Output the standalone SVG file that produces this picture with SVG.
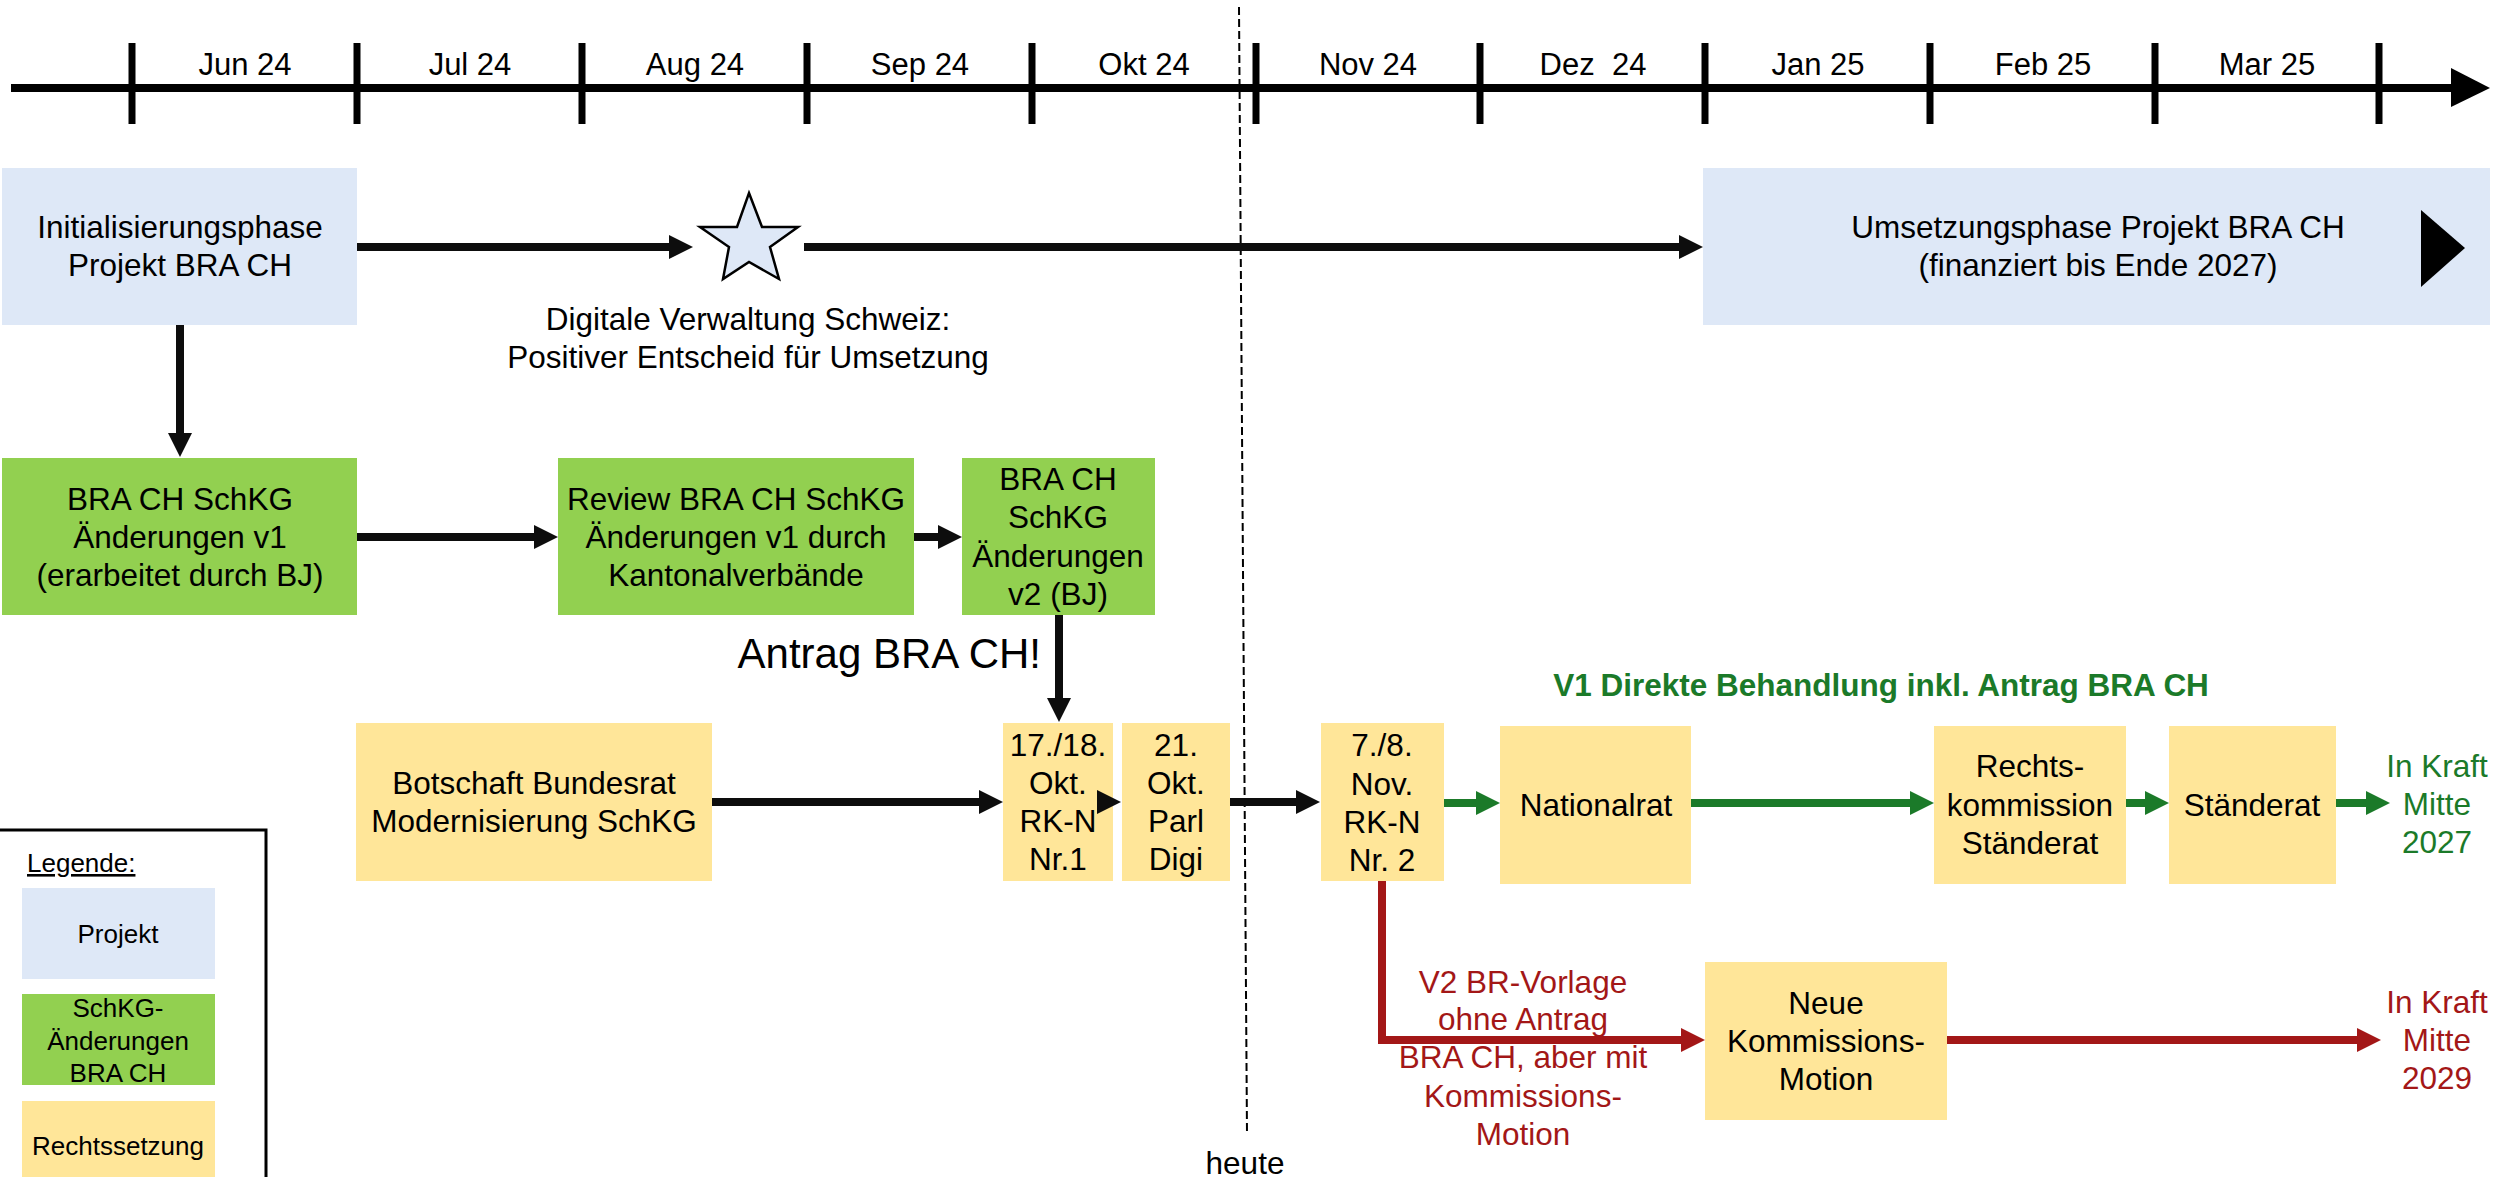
<svg xmlns="http://www.w3.org/2000/svg" width="2504" height="1177" viewBox="0 0 2504 1177">
<defs>
<style>
text { font-family: "Liberation Sans", Arial, sans-serif; font-size: 31.5px; fill: #000; text-anchor: middle; }
.blue { fill: #DEE8F7; }
.green { fill: #92D050; }
.yellow { fill: #FFE699; }
.conn { fill: none; stroke-width: 8; stroke-linejoin: miter; }
.k { stroke: #0D0D0D; }
.g { stroke: #1B7A29; }
.r { stroke: #A31717; }
.gt { fill: #1B7A29; }
.rt { fill: #A31717; }
.leg { font-size: 26px; }
.tick { stroke: #000; stroke-width: 7; }
.month { font-size: 31px; }
</style>
<marker id="ak" markerUnits="userSpaceOnUse" markerWidth="24" markerHeight="24" viewBox="0 0 24 24" refX="2" refY="12" orient="auto"><path d="M0,0 L24,12 L0,24 z" fill="#0D0D0D"/></marker>
<marker id="ag" markerUnits="userSpaceOnUse" markerWidth="24" markerHeight="24" viewBox="0 0 24 24" refX="2" refY="12" orient="auto"><path d="M0,0 L24,12 L0,24 z" fill="#1B7A29"/></marker>
<marker id="ar" markerUnits="userSpaceOnUse" markerWidth="24" markerHeight="24" viewBox="0 0 24 24" refX="2" refY="12" orient="auto"><path d="M0,0 L24,12 L0,24 z" fill="#A31717"/></marker>
</defs>
<rect width="2504" height="1177" fill="#fff"/>

<g id="timeline">
<line x1="11" y1="88" x2="2455" y2="88" stroke="#000" stroke-width="8"/>
<polygon points="2451,68 2490,88 2451,107" fill="#000"/>
<line class="tick" x1="132" y1="43" x2="132" y2="124"/>
<line class="tick" x1="357" y1="43" x2="357" y2="124"/>
<line class="tick" x1="582" y1="43" x2="582" y2="124"/>
<line class="tick" x1="807" y1="43" x2="807" y2="124"/>
<line class="tick" x1="1032" y1="43" x2="1032" y2="124"/>
<line class="tick" x1="1256" y1="43" x2="1256" y2="124"/>
<line class="tick" x1="1480" y1="43" x2="1480" y2="124"/>
<line class="tick" x1="1705" y1="43" x2="1705" y2="124"/>
<line class="tick" x1="1930" y1="43" x2="1930" y2="124"/>
<line class="tick" x1="2155" y1="43" x2="2155" y2="124"/>
<line class="tick" x1="2379" y1="43" x2="2379" y2="124"/>
<text class="month" x="245" y="75">Jun 24</text>
<text class="month" x="470" y="75">Jul 24</text>
<text class="month" x="695" y="75">Aug 24</text>
<text class="month" x="920" y="75">Sep 24</text>
<text class="month" x="1144" y="75">Okt 24</text>
<text class="month" x="1368" y="75">Nov 24</text>
<text class="month" x="1593" y="75" style="white-space:pre">Dez  24</text>
<text class="month" x="1818" y="75">Jan 25</text>
<text class="month" x="2043" y="75">Feb 25</text>
<text class="month" x="2267" y="75">Mar 25</text>
</g>

<g id="heute">
<line x1="1239" y1="7" x2="1247" y2="1133" stroke="#000" stroke-width="2" stroke-dasharray="8 4"/>
<text x="1245" y="1174">heute</text>
</g>

<g id="init">
<rect class="blue" x="2" y="168" width="355" height="157"/>
<text x="180" y="238">Initialisierungsphase</text>
<text x="180" y="276">Projekt BRA CH</text>
</g>

<g id="star">
<polygon points="749,193 762,227 798,227 770,247 779,279 749,262 723,279 729,247 700,227 737,227" fill="#DEE8F7" stroke="#000" stroke-width="2.5" stroke-linejoin="miter"/>
<text x="748" y="330">Digitale Verwaltung Schweiz:</text>
<text x="748" y="368">Positiver Entscheid für Umsetzung</text>
</g>

<g id="umsetzung">
<rect class="blue" x="1703" y="168" width="787" height="157"/>
<text x="2098" y="238">Umsetzungsphase Projekt BRA CH</text>
<text x="2098" y="276">(finanziert bis Ende 2027)</text>
<polygon points="2421,210 2465,248 2421,287" fill="#000"/>
</g>

<g id="schkg-v1">
<rect class="green" x="2" y="458" width="355" height="157"/>
<text x="180" y="510">BRA CH SchKG</text>
<text x="180" y="548">Änderungen v1</text>
<text x="180" y="586">(erarbeitet durch BJ)</text>
</g>

<g id="review">
<rect class="green" x="558" y="458" width="356" height="157"/>
<text x="736" y="510">Review BRA CH SchKG</text>
<text x="736" y="548">Änderungen v1 durch</text>
<text x="736" y="586">Kantonalverbände</text>
</g>

<g id="schkg-v2">
<rect class="green" x="962" y="458" width="193" height="157"/>
<text x="1058" y="490">BRA CH</text>
<text x="1058" y="528">SchKG</text>
<text x="1058" y="567">Änderungen</text>
<text x="1058" y="605">v2 (BJ)</text>
</g>

<g id="antrag-label">
<text x="1041" y="668" style="text-anchor:end;font-size:42px">Antrag BRA CH!</text>
</g>

<g id="botschaft">
<rect class="yellow" x="356" y="723" width="356" height="158"/>
<text x="534" y="794">Botschaft Bundesrat</text>
<text x="534" y="832">Modernisierung SchKG</text>
</g>

<g id="rkn1">
<rect class="yellow" x="1003" y="723" width="110" height="158"/>
<text x="1058" y="756">17./18.</text>
<text x="1058" y="794">Okt.</text>
<text x="1058" y="832">RK-N</text>
<text x="1058" y="870">Nr.1</text>
</g>

<g id="parldigi">
<rect class="yellow" x="1122" y="723" width="108" height="158"/>
<text x="1176" y="756">21.</text>
<text x="1176" y="794">Okt.</text>
<text x="1176" y="832">Parl</text>
<text x="1176" y="870">Digi</text>
</g>

<g id="rkn2">
<rect class="yellow" x="1321" y="723" width="123" height="158"/>
<text x="1382" y="756">7./8.</text>
<text x="1382" y="795">Nov.</text>
<text x="1382" y="833">RK-N</text>
<text x="1382" y="871">Nr. 2</text>
</g>

<g id="v1-title">
<text class="gt" x="1881" y="696" style="font-weight:bold">V1 Direkte Behandlung inkl. Antrag BRA CH</text>
</g>

<g id="nationalrat">
<rect class="yellow" x="1500" y="726" width="191" height="158"/>
<text x="1596" y="816">Nationalrat</text>
</g>

<g id="rechtskommission">
<rect class="yellow" x="1934" y="726" width="192" height="158"/>
<text x="2030" y="777">Rechts-</text>
<text x="2030" y="816">kommission</text>
<text x="2030" y="854">Ständerat</text>
</g>

<g id="staenderat">
<rect class="yellow" x="2169" y="726" width="167" height="158"/>
<text x="2252" y="816">Ständerat</text>
</g>

<g id="inkraft-2027">
<text class="gt" x="2437" y="777">In Kraft</text>
<text class="gt" x="2437" y="815">Mitte</text>
<text class="gt" x="2437" y="853">2027</text>
</g>

<g id="v2-label">
<text class="rt" x="1523" y="993">V2 BR-Vorlage</text>
<text class="rt" x="1523" y="1030">ohne Antrag</text>
<text class="rt" x="1523" y="1068">BRA CH, aber mit</text>
<text class="rt" x="1523" y="1107">Kommissions-</text>
<text class="rt" x="1523" y="1145">Motion</text>
</g>

<g id="neue-motion">
<rect class="yellow" x="1705" y="962" width="242" height="158"/>
<text x="1826" y="1014">Neue</text>
<text x="1826" y="1052">Kommissions-</text>
<text x="1826" y="1090">Motion</text>
</g>

<g id="inkraft-2029">
<text class="rt" x="2437" y="1013">In Kraft</text>
<text class="rt" x="2437" y="1051">Mitte</text>
<text class="rt" x="2437" y="1089">2029</text>
</g>

<g id="legend">
<rect x="-3" y="830" width="269" height="400" fill="none" stroke="#000" stroke-width="3"/>
<text class="leg" x="27" y="872" style="text-anchor:start" text-decoration="underline">Legende:</text>
<rect class="blue" x="22" y="888" width="193" height="91"/>
<text class="leg" x="118" y="943">Projekt</text>
<rect class="green" x="22" y="994" width="193" height="91"/>
<text class="leg" x="118" y="1017">SchKG-</text>
<text class="leg" x="118" y="1050">Änderungen</text>
<text class="leg" x="118" y="1082">BRA CH</text>
<rect class="yellow" x="22" y="1101" width="193" height="90"/>
<text class="leg" x="118" y="1155">Rechtssetzung</text>
</g>

<g id="connectors">
<path class="conn k" d="M357,247 H671" marker-end="url(#ak)"/>
<path class="conn k" d="M804,247 H1681" marker-end="url(#ak)"/>
<path class="conn k" d="M180,325 V435" marker-end="url(#ak)"/>
<path class="conn k" d="M357,537 H536" marker-end="url(#ak)"/>
<path class="conn k" d="M914,537 H940" marker-end="url(#ak)"/>
<path class="conn k" d="M1059,615 V700" marker-end="url(#ak)"/>
<path class="conn k" d="M712,802 H981" marker-end="url(#ak)"/>
<path class="conn k" d="M1097,802 H1099" marker-end="url(#ak)"/>
<path class="conn k" d="M1230,802 H1298" marker-end="url(#ak)"/>
<path class="conn g" d="M1444,803 H1478" marker-end="url(#ag)"/>
<path class="conn g" d="M1691,803 H1912" marker-end="url(#ag)"/>
<path class="conn g" d="M2126,803 H2147" marker-end="url(#ag)"/>
<path class="conn g" d="M2336,803 H2368" marker-end="url(#ag)"/>
<path class="conn r" d="M1382,881 V1040 H1683" marker-end="url(#ar)"/>
<path class="conn r" d="M1947,1040 H2359" marker-end="url(#ar)"/>
</g>
</svg>
